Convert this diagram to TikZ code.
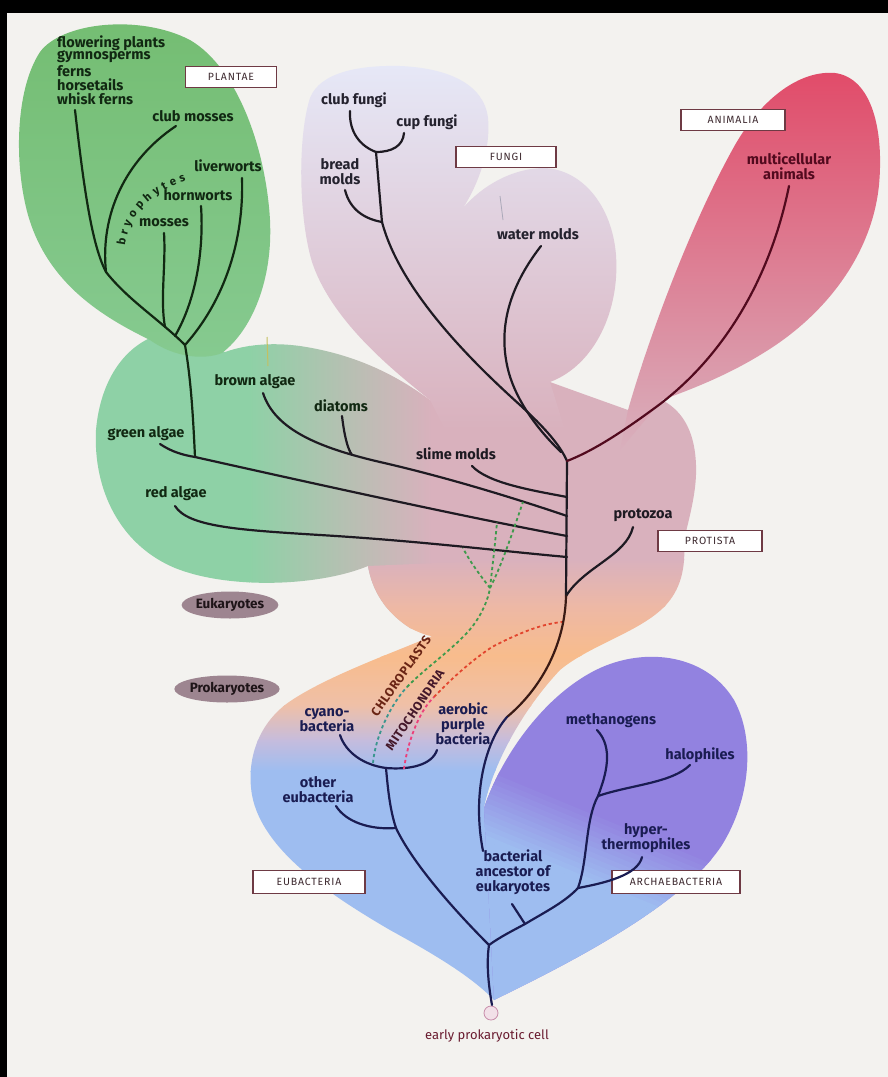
\documentclass[tikz,border=0pt]{standalone}
\usepackage{fontspec}
\setmainfont{Fira Sans}
\newfontfamily\tagfont[LetterSpace=8]{Fira Sans}
\newfontfamily\organellefont[LetterSpace=5]{Fira Sans}
\usetikzlibrary{shapes.geometric,decorations.text,shadings}

\definecolor{paper}{HTML}{F3F2EF}
\definecolor{plantA}{HTML}{74BD72}
\definecolor{plantB}{HTML}{86CA90}
\definecolor{algae}{HTML}{8ED1A6}
\definecolor{protist}{HTML}{D9B1BD}
\definecolor{fungiT}{HTML}{E6E8F7}
\definecolor{fungiM}{HTML}{DCD6EC}
\definecolor{animT}{HTML}{E14B69}
\definecolor{animM}{HTML}{E0637F}
\definecolor{animB}{HTML}{D9B0BD}
\definecolor{peach}{HTML}{EDB8A6}
\definecolor{orangeP}{HTML}{F8BC8C}
\definecolor{peachB}{HTML}{EFC0A8}
\definecolor{lilac}{HTML}{C5BCDD}
\definecolor{blueE}{HTML}{9EBDF0}
\definecolor{archP}{HTML}{9282E0}
\definecolor{inkG}{HTML}{112812}
\definecolor{inkF}{HTML}{24222E}
\definecolor{inkP}{HTML}{1E1A22}
\definecolor{inkA}{HTML}{520A1E}
\definecolor{inkB}{HTML}{1A1C52}
\definecolor{inkC}{HTML}{6A2414}
\definecolor{inkM}{HTML}{44182A}
\definecolor{boxline}{HTML}{6E3A44}
\definecolor{boxtext}{HTML}{3E2A30}
\definecolor{chloro}{HTML}{3E9A4C}
\definecolor{chloroLow}{HTML}{3A968E}
\definecolor{mito}{HTML}{E2452E}
\definecolor{mitoLow}{HTML}{EC3F7A}
\definecolor{oval}{HTML}{9D8590}
\definecolor{ovaltext}{HTML}{1E1418}
\definecolor{celltext}{HTML}{6A1C30}

\tikzset{
  lab/.style={font=\fontsize{14.5}{15}\selectfont\bfseries, inner sep=0pt, align=center},
  taglabel/.style={draw=boxline, fill=white, line width=1.1pt, inner sep=0pt,
    minimum height=21pt, font=\tagfont\fontsize{10.5}{11}\selectfont, text=boxtext},
  organelle/.style={inner sep=0pt, font=\organellefont\fontsize{12.5}{13}\selectfont\bfseries},
  branch/.style={line width=2.2pt, line cap=round},
  chl/.style={draw=chloro, line width=1.8pt, dash pattern=on 3.2pt off 2.8pt},
  mit/.style={draw=mito, line width=1.8pt, dash pattern=on 3.2pt off 2.8pt},
  kingdomoval/.style={ellipse, fill=oval, minimum width=94pt, minimum height=27pt,
    inner sep=0pt, font=\fontsize{13.5}{14}\selectfont\bfseries, text=ovaltext},
}

\begin{document}
\begin{tikzpicture}[x=1pt,y=-1pt]
\useasboundingbox (0,0) rectangle (888,1077);

% paper and dark frame edges
\fill[paper] (0,0) rectangle (888,1077);
\fill[black] (0,0) rectangle (888,13);
\fill[black] (0,0) rectangle (7,1077);

% algae lobe and protist core
\begin{scope}
\clip (150,338) .. controls (120,352) and (100,385) .. (96,430)
 .. controls (93,490) and (120,545) .. (175,568)
 .. controls (230,590) and (320,586) .. (368,566)
 .. controls (372,590) and (385,612) .. (410,628)
 -- (432,636) -- (600,640)
 .. controls (640,628) and (672,600) .. (680,562)
 -- (684,540)
 .. controls (690,515) and (697,490) .. (696,465)
 .. controls (695,435) and (685,412) .. (662,400)
 -- (628,410)
 .. controls (600,400) and (572,390) .. (550,382)
 -- (430,400)
 .. controls (400,378) and (360,355) .. (300,346)
 .. controls (270,342) and (245,345) .. (225,352)
 .. controls (205,347) and (175,340) .. (150,338) -- cycle;
\fill[algae] (80,320) rectangle (250,660);
\shade[left color=algae, right color=protist] (249,320) rectangle (432,660);
\fill[protist] (431,320) rectangle (720,660);
\end{scope}

% prokaryote lobe with the orange neck
\begin{scope}
\clip (368,566) .. controls (372,590) and (385,612) .. (410,628)
 .. controls (420,633) and (428,636) .. (432,636)
 .. controls (395,652) and (330,675) .. (292,700)
 .. controls (258,722) and (246,760) .. (252,795)
 .. controls (262,850) and (330,895) .. (390,930)
 .. controls (430,952) and (470,975) .. (494,1000)
 -- (560,900) -- (484,808)
 .. controls (490,775) and (515,718) .. (560,670)
 .. controls (590,645) and (640,632) .. (665,606)
 .. controls (680,590) and (686,570) .. (684,540)
 -- (600,556) -- cycle;
\fill[protist] (240,530) rectangle (700,560);
\shade[top color=protist, bottom color=peach] (240,559) rectangle (700,606);
\shade[top color=peach, bottom color=orangeP] (240,605) rectangle (700,656);
\shade[top color=orangeP, bottom color=peachB] (240,655) rectangle (700,706);
\shade[top color=peachB, bottom color=lilac] (240,705) rectangle (700,741);
\shade[top color=lilac, bottom color=blueE] (240,740) rectangle (700,771);
\fill[blueE] (240,770) rectangle (700,1005);
\end{scope}

% fungi lobes
\shade[top color=fungiT, middle color=fungiM, bottom color=protist]
 (430,400) .. controls (395,372) and (332,322) .. (312,262)
 .. controls (298,215) and (298,135) .. (310,98)
 .. controls (320,72) and (360,65) .. (400,66)
 .. controls (448,68) and (484,84) .. (488,118)
 .. controls (491,150) and (478,185) .. (463,208)
 .. controls (482,186) and (512,168) .. (545,168)
 .. controls (582,170) and (612,205) .. (616,255)
 .. controls (620,310) and (595,365) .. (550,382)
 -- (565,430) -- (445,430) -- cycle;

% animal lobe
\shade[top color=animT, middle color=animM, bottom color=animB]
 (628,410) .. controls (648,340) and (690,225) .. (735,145)
 .. controls (762,98) and (800,70) .. (835,73)
 .. controls (872,78) and (884,130) .. (879,185)
 .. controls (872,255) and (825,315) .. (765,352)
 .. controls (730,374) and (695,388) .. (662,400)
 -- (620,450) -- cycle;

% plant lobe
\shade[top color=plantA, bottom color=plantB]
 (150,340) .. controls (105,318) and (48,285) .. (28,215)
 .. controls (14,165) and (15,90) .. (40,52)
 .. controls (62,22) and (140,14) .. (190,40)
 .. controls (238,68) and (266,150) .. (270,220)
 .. controls (273,280) and (252,330) .. (222,353)
 .. controls (205,360) and (175,358) .. (150,340) -- cycle;

% archaebacteria lobe: purple above a slanted band that turns blue
\begin{scope}
\clip (484,808) .. controls (500,760) and (540,700) .. (592,672)
 .. controls (640,646) and (705,652) .. (734,700)
 .. controls (756,740) and (750,800) .. (722,845)
 .. controls (683,905) and (572,962) .. (494,1000) -- cycle;
\fill[archP] (470,640) rectangle (770,1010);
\foreach \i in {0,...,13}{
  \pgfmathsetmacro{\sa}{-35+5*\i}
  \pgfmathsetmacro{\sb}{\sa+5.6}
  \pgfmathsetmacro{\mix}{100*\i/13}
  \fill[blueE!\mix!archP]
    ({600-0.383*\sa-0.924*320},{850+0.924*\sa-0.383*320}) --
    ({600-0.383*\sa+0.924*320},{850+0.924*\sa+0.383*320}) --
    ({600-0.383*\sb+0.924*320},{850+0.924*\sb+0.383*320}) --
    ({600-0.383*\sb-0.924*320},{850+0.924*\sb-0.383*320}) -- cycle;
}
\fill[blueE]
    ({600-0.383*35-0.924*320},{850+0.924*35-0.383*320}) --
    ({600-0.383*35+0.924*320},{850+0.924*35+0.383*320}) --
    ({600-0.383*300+0.924*320},{850+0.924*300+0.383*320}) --
    ({600-0.383*300-0.924*320},{850+0.924*300-0.383*320}) -- cycle;
\end{scope}

% small stray strokes on the artwork
\draw[draw={rgb,255:red,196;green,192;blue,96}, line width=1pt] (267,337) -- (268,366);
\draw[draw={rgb,255:red,170;green,168;blue,184}, line width=0.8pt] (500,196) -- (503,220);

% ---------- labels ----------
\node[lab, text=inkG, anchor=west] (fp) at (57,43) {flowering plants};
\node[lab, text=inkG, anchor=west] (gy) at (57,57) {gymnosperms};
\node[lab, text=inkG, anchor=west] (fe) at (57,71) {ferns};
\node[lab, text=inkG, anchor=west] (ho) at (57,85) {horsetails};
\node[lab, text=inkG, anchor=west] (wk) at (57,99) {whisk ferns};
\node[taglabel, minimum width=91pt] (plantae) at (231,77) {PLANTAE};
\node[lab, text=inkG] (clubm) at (193,116) {club mosses};
\node[lab, text=inkG] (liver) at (228,166) {liverworts};
\node[lab, text=inkG] (horn) at (198,195) {hornworts};
\node[lab, text=inkG] (moss) at (164,223) {mosses};
\path[decorate, decoration={text along path, text color=inkG,
  text={|\fontsize{11.5}{12}\selectfont\bfseries|bryophytes}, text align={fit to path}}]
  (125,246) .. controls (129,214) and (151,192) .. (186,181);

\node[lab, text=inkG] (brown) at (255,382) {brown algae};
\node[lab, text=inkG] (diat) at (341,406) {diatoms};
\node[lab, text=inkG] (green) at (146,434) {green algae};
\node[lab, text=inkG] (red) at (176,494) {red algae};
\node[lab, text=inkP] (slime) at (456,454) {slime molds};

\node[lab, text=inkF] (clubf) at (354,100) {club fungi};
\node[lab, text=inkF] (cupf) at (427,122) {cup fungi};
\node[lab, text=inkF] (bread) at (340,172) {bread\\molds};
\node[taglabel, minimum width=100pt] (fungibox) at (506,157) {FUNGI};
\node[lab, text=inkF] (water) at (538,234) {water molds};

\node[taglabel, minimum width=104pt] (animbox) at (733,120) {ANIMALIA};
\node[lab, text=inkA] (multi) at (789,166) {multicellular\\animals};

\node[lab, text=inkP] (proto) at (643,515) {protozoa};
\node[taglabel, minimum width=104pt] (protbox) at (710,541) {PROTISTA};

\node[kingdomoval] (euk) at (230,605) {Eukaryotes};
\node[kingdomoval] (prok) at (227,689) {Prokaryotes};

\node[lab, text=inkB] (cyano) at (327,720) {cyano-\\bacteria};
\node[lab, text=inkB] (aerob) at (463,724) {aerobic\\purple\\bacteria};
\node[lab, text=inkB] (other) at (318,790) {other\\eubacteria};
\node[lab, text=inkB] (metha) at (611,721) {methanogens};
\node[lab, text=inkB] (halo) at (700,755) {halophiles};
\node[lab, text=inkB] (hyper) at (646,838) {hyper-\\thermophiles};
\node[lab, text=inkB] (bact) at (513,872) {bacterial\\ancestor of\\eukaryotes};
\node[taglabel, minimum width=112pt, minimum height=23pt] (eubox) at (309,882) {EUBACTERIA};
\node[taglabel, minimum width=128pt, minimum height=23pt] (archbox) at (676,882) {ARCHAEBACTERIA};

\node[organelle, text=inkC, rotate=55] (chltext) at (401,676) {CHLOROPLASTS};
\node[organelle, text=inkM, rotate=56] (mittext) at (415,710) {MITOCHONDRIA};

\node[circle, draw={rgb,255:red,200;green,140;blue,170}, fill={rgb,255:red,242;green,224;blue,232},
  line width=0.8pt, minimum size=14pt, inner sep=0pt] (cell) at (491,1013) {};
\node[font=\fontsize{13}{14}\selectfont, text=celltext, inner sep=0pt] (celllab) at (487,1036) {early prokaryotic cell};

% ---------- branch points ----------
\coordinate (wf) at (75,110);
\coordinate (cm) at (176,126);
\coordinate (pj) at (106,272);
\coordinate (ms) at (164,233);
\coordinate (msj) at (165,327);
\coordinate (hw) at (201,206);
\coordinate (hwj) at (175,336);
\coordinate (lw) at (242,178);
\coordinate (pt) at (185,345);
\coordinate (pb) at (195,457);
\coordinate (ga) at (160,444);
\coordinate (tg) at (567,536);
\coordinate (ra) at (175,506);
\coordinate (rm) at (320,535);
\coordinate (tr) at (567,557);
\coordinate (ba) at (263,393);
\coordinate (bm2) at (380,462);
\coordinate (tb) at (567,516);
\coordinate (dt) at (342,416);
\coordinate (dtj) at (352,455);
\coordinate (sm) at (472,466);
\coordinate (ts) at (567,497);
\coordinate (cf) at (350,111);
\coordinate (cu) at (404,133);
\coordinate (fj1) at (376,152);
\coordinate (bm) at (345,190);
\coordinate (fj2) at (382,222);
\coordinate (fm) at (520,405);
\coordinate (top) at (567,461);
\coordinate (wm) at (541,246);
\coordinate (wmm) at (507,365);
\coordinate (wmj) at (561,452);
\coordinate (an) at (789,186);
\coordinate (anm) at (652,410);
\coordinate (pz) at (566,596);
\coordinate (tk) at (507,717);
\coordinate (ea) at (483,851);
\coordinate (po) at (633,527);
\coordinate (cy) at (340,735);
\coordinate (ae) at (437,750);
\coordinate (e1) at (386,768);
\coordinate (oe) at (336,806);
\coordinate (e2) at (396,828);
\coordinate (r0) at (489,945);
\coordinate (root) at (492,1005);
\coordinate (a1) at (525,924);
\coordinate (a2) at (578,888);
\coordinate (a3) at (598,796);
\coordinate (mt) at (597,730);
\coordinate (hl) at (690,765);
\coordinate (ht) at (642,857);
\coordinate (bs) at (512,904);
\coordinate (c0) at (373,763);
\coordinate (cmid) at (407,687);
\coordinate (cup2) at (472,627);
\coordinate (cx) at (490,588);
\coordinate (sl) at (463,548);
\coordinate (sg) at (497,522);
\coordinate (sb) at (523,502);
\coordinate (m0) at (404,769);
\coordinate (mmid) at (434,697);
\coordinate (mup) at (492,647);
\coordinate (mj) at (562,622);

% ---------- plants ----------
\begin{scope}[branch, draw=inkG]
\draw (wf) .. controls (84,190) and (92,245) .. (pj);
\draw (cm) .. controls (125,160) and (100,215) .. (pj);
\draw (pj) .. controls (128,300) and (160,320) .. (pt);
\draw (ms) .. controls (166,265) and (160,300) .. (msj);
\draw (hw) .. controls (204,250) and (196,300) .. (hwj);
\draw (lw) .. controls (244,240) and (225,300) .. (pt);
\draw (pt) .. controls (191,380) and (193,415) .. (pb);
\end{scope}

% ---------- algae and protists ----------
\begin{scope}[branch, draw=inkP]
\draw (ga) .. controls (172,452) and (183,455) .. (pb);
\draw (pb) .. controls (320,485) and (470,518) .. (tg);
\draw (ra) .. controls (188,527) and (240,530) .. (rm);
\draw (rm) .. controls (420,541) and (500,551) .. (tr);
\draw (ba) .. controls (275,430) and (320,448) .. (bm2);
\draw (bm2) .. controls (450,478) and (520,500) .. (tb);
\draw (dt) .. controls (344,433) and (347,448) .. (dtj);
\draw (sm) .. controls (488,483) and (530,490) .. (ts);
\draw (top) -- (pz);
\draw (po) .. controls (626,556) and (585,566) .. (pz);
\end{scope}

% ---------- fungi ----------
\begin{scope}[branch, draw=inkP]
\draw (cf) .. controls (349,132) and (360,146) .. (fj1);
\draw (cu) .. controls (403,146) and (392,152) .. (fj1);
\draw (fj1) .. controls (378,175) and (380,200) .. (fj2);
\draw (bm) .. controls (350,210) and (365,219) .. (fj2);
\draw (fj2) .. controls (400,290) and (470,360) .. (fm);
\draw (fm) .. controls (545,428) and (560,445) .. (top);
\draw (wm) .. controls (513,282) and (498,322) .. (wmm);
\draw (wmm) .. controls (514,400) and (540,432) .. (wmj);
\end{scope}

% ---------- animals ----------
\begin{scope}[branch, draw=inkA]
\draw (an) .. controls (770,280) and (722,360) .. (anm);
\draw (anm) .. controls (615,437) and (590,452) .. (top);
\end{scope}

% ---------- line to the bacterial ancestor ----------
\draw[branch, draw={rgb,255:red,58;green,26;blue,20}] (pz) .. controls (565,640) and (545,685) .. (tk);
\draw[branch, draw=inkB] (tk) .. controls (485,742) and (472,795) .. (ea);

% ---------- eubacteria ----------
\begin{scope}[branch, draw=inkB]
\draw (cy) .. controls (346,753) and (364,765) .. (e1);
\draw (ae) .. controls (432,765) and (410,770) .. (e1);
\draw (e1) .. controls (388,790) and (390,810) .. (e2);
\draw (oe) .. controls (346,822) and (370,830) .. (e2);
\draw (e2) .. controls (412,862) and (452,908) .. (r0);
\draw (r0) .. controls (486,965) and (489,988) .. (root);
\end{scope}

% ---------- archaebacteria ----------
\begin{scope}[branch, draw=inkB]
\draw (r0) .. controls (500,937) and (512,931) .. (a1);
\draw (a1) .. controls (545,912) and (565,902) .. (a2);
\draw (a2) .. controls (588,860) and (585,820) .. (a3);
\draw (a3) .. controls (606,775) and (614,748) .. (mt);
\draw (a3) .. controls (630,785) and (672,783) .. (hl);
\draw (a2) .. controls (605,883) and (638,875) .. (ht);
\draw (bs) -- (a1);
\end{scope}

% ---------- endosymbiosis ----------
\draw[chl, draw=chloroLow] (c0) .. controls (375,738) and (390,705) .. (cmid);
\draw[chl] (cmid) .. controls (425,668) and (455,648) .. (cup2)
  .. controls (482,614) and (488,600) .. (cx);
\draw[chl] (cx) .. controls (480,575) and (470,562) .. (sl);
\draw[chl] (cx) .. controls (492,570) and (495,545) .. (sg);
\draw[chl] (cx) .. controls (502,565) and (515,525) .. (sb);
\draw[mit, draw=mitoLow] (m0) .. controls (407,745) and (418,712) .. (mmid);
\draw[mit] (mmid) .. controls (450,680) and (472,660) .. (mup)
  .. controls (515,635) and (540,624) .. (mj);

\end{tikzpicture}
\end{document}
